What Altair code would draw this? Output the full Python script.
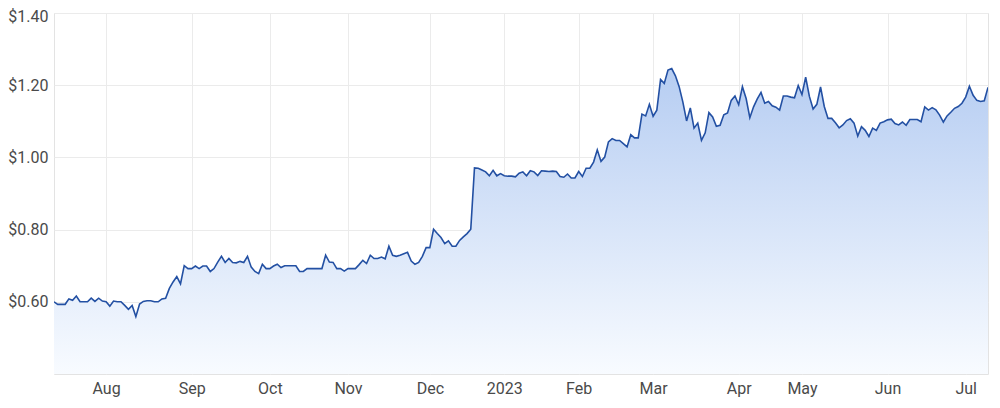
import altair as alt
import pandas as pd

# Closing prices, one per trading day (index 0 = first day on the chart)
prices = [
    0.600, 0.593, 0.593, 0.593, 0.608, 0.604, 0.616, 0.600, 0.600, 0.600,
    0.610, 0.601, 0.610, 0.602, 0.600, 0.588, 0.602, 0.600, 0.600, 0.590,
    0.579, 0.590, 0.559, 0.594, 0.601, 0.603, 0.603, 0.600, 0.600, 0.608,
    0.610, 0.637, 0.655, 0.670, 0.650, 0.700, 0.692, 0.692, 0.699, 0.692,
    0.699, 0.699, 0.684, 0.692, 0.710, 0.726, 0.709, 0.720, 0.709, 0.708,
    0.712, 0.709, 0.726, 0.696, 0.684, 0.678, 0.704, 0.692, 0.692, 0.699,
    0.704, 0.695, 0.700, 0.700, 0.700, 0.700, 0.684, 0.684, 0.692, 0.692,
    0.692, 0.692, 0.692, 0.729, 0.710, 0.709, 0.692, 0.692, 0.685, 0.692,
    0.692, 0.692, 0.703, 0.715, 0.706, 0.729, 0.720, 0.720, 0.724, 0.719,
    0.754, 0.729, 0.726, 0.729, 0.733, 0.737, 0.713, 0.704, 0.709, 0.726,
    0.750, 0.750, 0.801, 0.789, 0.778, 0.761, 0.769, 0.754, 0.754, 0.770,
    0.780, 0.789, 0.801, 0.971, 0.970, 0.965, 0.960, 0.949, 0.964, 0.949,
    0.955, 0.949, 0.948, 0.948, 0.946, 0.956, 0.960, 0.949, 0.963, 0.960,
    0.950, 0.963, 0.962, 0.961, 0.962, 0.961, 0.947, 0.945, 0.954, 0.943,
    0.943, 0.961, 0.947, 0.970, 0.970, 0.987, 1.021, 0.989, 1.001, 1.043,
    1.052, 1.047, 1.047, 1.038, 1.029, 1.063, 1.054, 1.054, 1.120, 1.115,
    1.147, 1.114, 1.131, 1.216, 1.205, 1.242, 1.246, 1.226, 1.196, 1.153,
    1.101, 1.137, 1.081, 1.095, 1.047, 1.068, 1.124, 1.112, 1.086, 1.089,
    1.118, 1.123, 1.158, 1.170, 1.146, 1.196, 1.163, 1.110, 1.140, 1.162,
    1.180, 1.150, 1.155, 1.143, 1.139, 1.131, 1.170, 1.170, 1.167, 1.165,
    1.199, 1.174, 1.222, 1.169, 1.134, 1.147, 1.195, 1.141, 1.108, 1.108,
    1.096, 1.082, 1.090, 1.102, 1.107, 1.095, 1.059, 1.085, 1.075, 1.058,
    1.081, 1.075, 1.095, 1.099, 1.104, 1.106, 1.094, 1.090, 1.098, 1.089,
    1.105, 1.105, 1.105, 1.099, 1.140, 1.131, 1.138, 1.132, 1.117, 1.098,
    1.115, 1.125, 1.136, 1.141, 1.150, 1.167, 1.197, 1.172, 1.158, 1.155,
    1.157, 1.194,
]

# First trading day of each month (trading-day index) and its label
month_ticks = [14, 37, 58, 79, 101, 121, 141, 161, 184, 201, 224, 245]
month_labels = ["Aug", "Sep", "Oct", "Nov", "Dec", "2023",
                "Feb", "Mar", "Apr", "May", "Jun", "Jul"]

y_ticks = [0.6, 0.8, 1.0, 1.2, 1.4]

df = pd.DataFrame({"day": list(range(len(prices))), "price": prices})

labels_js = "[" + ",".join("'" + s + "'" for s in month_labels) + "]"
ticks_js = "[" + ",".join(str(t) for t in month_ticks) + "]"
label_expr = f"{labels_js}[indexof({ticks_js}, datum.value)]"

FONT = "Roboto"
GRID = "#ebebeb"
LABEL = "#4a4a4a"

x_enc = alt.X(
    "day:Q",
    scale=alt.Scale(domain=[0, len(prices) - 1], nice=False, zero=False),
    axis=alt.Axis(
        values=month_ticks,
        labelExpr=label_expr,
        title=None,
        grid=True,
        gridColor=GRID,
        ticks=False,
        domain=False,
        labelFont=FONT,
        labelFontSize=16,
        labelColor=LABEL,
        labelPadding=6,
        labelFlush=False,
    ),
)

y_enc = alt.Y(
    "price:Q",
    scale=alt.Scale(domain=[0.4, 1.4], nice=False, zero=False),
    axis=alt.Axis(
        values=y_ticks,
        format="$.2f",
        title=None,
        grid=True,
        gridColor=GRID,
        ticks=False,
        domain=False,
        labelFont=FONT,
        labelFontSize=16,
        labelColor=LABEL,
        labelPadding=6,
        labelFlush=True,
        labelFlushOffset=5,
    ),
)

gradient = alt.Gradient(
    gradient="linear",
    stops=[
        alt.GradientStop(color="#b6cdf2", offset=0),
        alt.GradientStop(color="#f8fbff", offset=1),
    ],
    x1=1, x2=1, y1=0, y2=1,
)

area = alt.Chart(df).mark_area(color=gradient, clip=True).encode(
    x=x_enc,
    y=y_enc,
    y2=alt.datum(0.4),
)

line = alt.Chart(df).mark_line(color="#2350a3", strokeWidth=1.6, clip=True).encode(
    x=x_enc,
    y=y_enc,
)

chart = (
    alt.layer(area, line)
    .properties(
        width=934,
        height=361,
        autosize=alt.AutoSizeParams(type="none"),
        padding={"left": 46, "top": 5, "right": 4, "bottom": 28},
        background="white",
    )
    .configure_view(stroke="#e3e3e3", strokeWidth=1)
)

chart.save("out.html", embed_options={"renderer": "svg", "actions": False})
